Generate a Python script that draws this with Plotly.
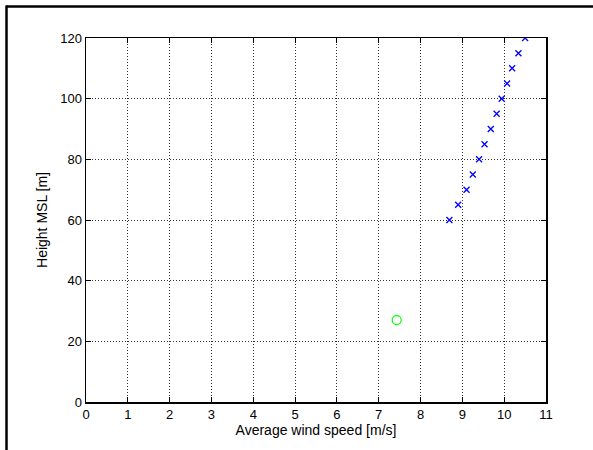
import plotly.graph_objects as go

# Data
wind_speed_mast = [8.69, 8.90, 9.10, 9.25, 9.40, 9.53, 9.68, 9.82, 9.94, 10.07, 10.19, 10.34, 10.50]
height_mast = [60, 65, 70, 75, 80, 85, 90, 95, 100, 105, 110, 115, 120]
wind_speed_ref = [7.43]
height_ref = [27]

x_ticks = list(range(0, 12))
y_ticks = list(range(0, 121, 20))

W, H = 593, 450
ML, MR, MT, MB = 86, 47, 38, 48
PW, PH = W - ML - MR, H - MT - MB

FONT = "Liberation Sans, Arial, Helvetica"

fig = go.Figure()
fig.add_trace(go.Scatter(
    x=wind_speed_mast, y=height_mast, mode="markers",
    marker=dict(symbol="x-thin", size=6, line=dict(color="#0000FF", width=1.3), color="#0000FF"),
    showlegend=False, hoverinfo="skip"))
fig.add_trace(go.Scatter(
    x=wind_speed_ref, y=height_ref, mode="markers",
    marker=dict(symbol="circle-open", size=9, color="#00FF00", line=dict(width=1.2)),
    showlegend=False, hoverinfo="skip"))

axis_common = dict(
    showgrid=True, gridcolor="#333333", griddash="1px,2px", gridwidth=1,
    zeroline=False, showline=True, linecolor="#000000", linewidth=1.5, mirror="ticks",
    ticks="inside", ticklen=5, tickcolor="#000000", tickwidth=1,
    tickfont=dict(family=FONT, size=13, color="#000000"),
)

fig.update_xaxes(range=[0, 11], tickvals=x_ticks, ticktext=[str(v) for v in x_ticks],
                 title=dict(text="Average wind speed [m/s]", standoff=4,
                            font=dict(family=FONT, size=14, color="#000000")),
                 **axis_common)
fig.update_yaxes(range=[0, 120], tickvals=y_ticks, ticktext=[str(v) for v in y_ticks],
                 title=dict(text="Height MSL [m]", standoff=9,
                            font=dict(family=FONT, size=14, color="#000000")),
                 **axis_common)

def px_x(p):
    return (p - ML) / PW

def px_y(p):
    return (H - MB - p) / PH

fig.update_layout(
    width=W, height=H,
    margin=dict(l=ML, r=MR, t=MT, b=MB),
    plot_bgcolor="white", paper_bgcolor="white",
    shapes=[
        dict(type="line", xref="paper", yref="paper",
             x0=px_x(6), x1=px_x(600), y0=px_y(6.5), y1=px_y(6.5),
             line=dict(color="black", width=2.5)),
        dict(type="line", xref="paper", yref="paper",
             x0=px_x(6.5), x1=px_x(6.5), y0=px_y(5.5), y1=px_y(460),
             line=dict(color="black", width=2.5)),
    ],
)

fig.write_html("out.html", config={"displayModeBar": False, "staticPlot": True})

with open("out.html", "r", encoding="utf-8") as f:
    html = f.read()
html = html.replace("<head>", "<head><style>html,body{margin:0;padding:0;overflow:hidden;}</style>", 1)
with open("out.html", "w", encoding="utf-8") as f:
    f.write(html)
